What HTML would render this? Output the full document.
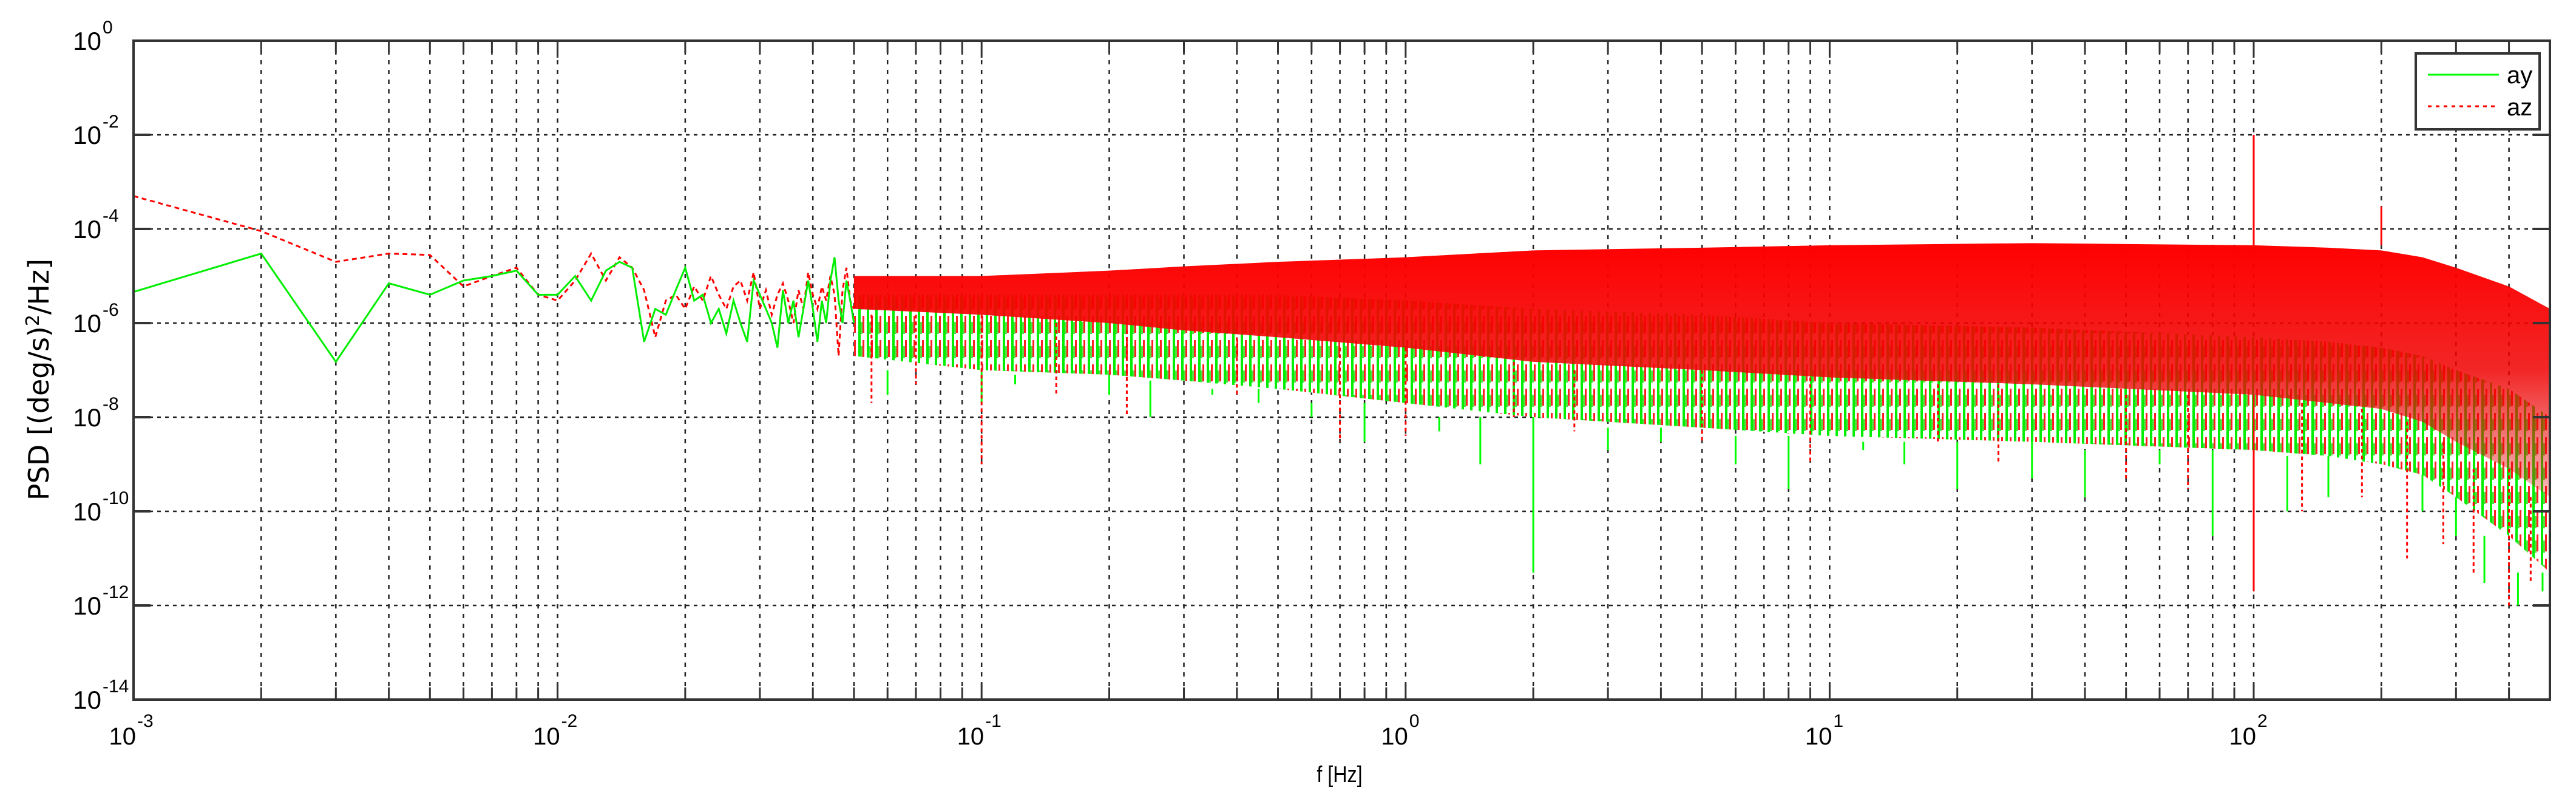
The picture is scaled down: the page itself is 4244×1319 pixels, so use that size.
<!DOCTYPE html>
<html><head><meta charset="utf-8"><style>
html,body{margin:0;padding:0;background:#fff;}
svg{display:block;font-family:"Liberation Sans",sans-serif;}
</style></head><body>
<svg id="chart" width="4244" height="1319" viewBox="0 0 4244 1319" xmlns="http://www.w3.org/2000/svg">
<defs>
<linearGradient id="redGrad" x1="0" y1="0" x2="0" y2="1">
<stop offset="0" stop-color="#ff0000" stop-opacity="1"/>
<stop offset="0.5" stop-color="#f00000" stop-opacity="0.85"/>
<stop offset="1" stop-color="#e00000" stop-opacity="0.25"/>
</linearGradient>
<pattern id="mixPat" patternUnits="userSpaceOnUse" width="14" height="40">
<rect x="0" y="0" width="14" height="40" fill="#fff"/>
<rect x="0" y="0" width="4" height="40" fill="#00ee00"/>
<rect x="7" y="0" width="3" height="28" fill="#ff2020"/>
<rect x="4" y="10" width="3" height="20" fill="#55dd44"/>
</pattern>
</defs>
<g id="grid"></g>
<g id="series"></g>
<rect x="220" y="67" width="3981" height="1085" fill="none" stroke="#333" stroke-width="4"/>
<g id="ticks"></g>
<text transform="translate(80,625) rotate(-90)" text-anchor="middle" font-size="46" font-family="'DejaVu Sans','Liberation Sans',sans-serif">PSD [(deg/s)<tspan dy="-16" font-size="30">2</tspan><tspan dy="16">/Hz]</tspan></text>
<text x="2207" y="1288" text-anchor="middle" font-size="38" transform="translate(2207,0) scale(0.85,1) translate(-2207,0)">f [Hz]</text>
<g>
<rect x="3980" y="88" width="204" height="125" fill="#fff" stroke="#333" stroke-width="4"/>
<line x1="4000" y1="123" x2="4117" y2="123" stroke="#00ff00" stroke-width="3"/>
<text x="4130" y="137" font-size="40">ay</text>
<line x1="4000" y1="175" x2="4117" y2="175" stroke="#ff0000" stroke-width="3" stroke-dasharray="6 7"/>
<text x="4130" y="190" font-size="40">az</text>
</g>
</svg>
<script>
// ---- data ----
const lowFreq = [0.001,0.002,0.003,0.004,0.005,0.006,0.007,0.008,0.009,0.010,0.011,0.012,0.013,0.014,0.015,0.016,0.017,0.018,0.019,0.020,0.021,0.022,0.023,0.024,0.025,0.026,0.027,0.028,0.029,0.030,0.031,0.032,0.033,0.034,0.035,0.036,0.037,0.038,0.039,0.040,0.041,0.042,0.043,0.044,0.045,0.046,0.047,0.048,0.049,0.050];
const ayLow = [4.6e-6,3e-5,1.5e-7,7e-6,4e-6,8e-6,1e-5,1.3e-5,4e-6,4e-6,1e-5,3e-6,1.3e-5,2e-5,1.5e-5,4e-7,2e-6,1.5e-6,5e-6,1.5e-5,3e-6,4e-6,1e-6,2e-6,6e-7,3e-6,1e-6,4e-7,8e-6,4e-6,2e-6,1e-6,3e-7,5e-6,1e-6,3e-6,5e-7,2e-6,8e-6,2e-6,4e-7,3e-6,1e-6,8e-6,2.5e-5,3e-6,1e-6,8e-6,3e-6,1e-6];
const azLow = [5e-4,9e-5,2e-5,3e-5,2.8e-5,6e-6,1e-5,1.5e-5,4e-6,3e-6,8e-6,3e-5,8e-6,2.5e-5,1.5e-5,5e-6,5e-7,3e-6,4e-6,2e-6,6e-6,3e-6,1e-5,4e-6,2e-6,6e-6,8e-6,3e-6,1.2e-5,2e-6,5e-6,1.5e-6,4e-6,7e-6,3e-6,1e-6,5e-6,2e-6,1.2e-5,4e-6,2e-6,6e-6,3e-6,1e-5,4e-6,2e-7,5e-6,1.5e-5,3e-6,2e-6];
const bandFreq = [0.05,0.1,0.2,0.3,0.5,1,2,5,10,30,100,150,200,250,300,400,500];
const azTop    = [1e-5,1e-5,1.3e-5,1.6e-5,2e-5,2.5e-5,3.5e-5,4e-5,4.5e-5,5e-5,4.5e-5,4e-5,3.5e-5,2.5e-5,1.5e-5,6e-6,2e-6];
const azBottom = [2e-6,1.5e-6,1e-6,7e-7,5e-7,3e-7,1.5e-7,1e-7,7e-8,5e-8,3e-8,2e-8,1.5e-8,8e-9,3e-9,8e-10,2e-10];
const ayTop    = [4e-6,4e-6,4e-6,4e-6,4e-6,3e-6,2e-6,1.5e-6,1e-6,8e-7,5e-7,4e-7,3e-7,2e-7,1e-7,4e-8,1e-8];
const ayBottom = [2e-7,1e-7,8e-8,6e-8,4e-8,2e-8,1e-8,6e-9,4e-9,3e-9,2e-9,1.5e-9,1e-9,6e-10,2e-10,3e-11,5e-12];
const aySpikeF = [0.06,0.1,0.12,0.2,0.25,0.35,0.45,0.6,0.8,1.2,1.5,2,3,4,6,8,12,15,20,30,40,60,80,120,150,250,300,350,420,480];
const aySpikeV = [3e-8,2e-8,5e-8,3e-8,1e-8,3e-8,2e-8,1e-8,3e-9,5e-9,1e-9,5e-12,2e-9,3e-9,1e-9,3e-10,2e-9,1e-9,3e-10,5e-10,2e-10,1e-9,3e-11,1e-10,2e-10,1e-10,3e-11,3e-12,1e-12,2e-12];
const azSpikeF = [0.055,0.07,0.1,0.15,0.22,0.4,0.7,1,1.8,2.5,5,9,18,25,50,70,100,130,180,230,280,330,400,450];
const azSpikeV = [2e-8,5e-8,1e-9,3e-8,1e-8,3e-8,3e-9,4e-9,1e-8,5e-9,3e-9,1e-9,3e-9,1e-9,5e-10,3e-10,2e-12,1e-10,2e-10,1e-11,2e-11,5e-12,1e-12,3e-12];
const azPeakF = [100,200];
const azPeakV = [1e-2,3e-4];
const xTickExp = [-3,-2,-1,0,1,2];
const yTickExp = [0,-2,-4,-6,-8,-10,-12,-14];

// ---- axes ----
const L=220,R=4201,T=67,B=1152,DEC=698.6;
const xs = f => L + (Math.log10(f)+3)*DEC;
const ys = v => T + (-Math.log10(v))*(B-T)/14;
const NS='http://www.w3.org/2000/svg';
function mk(tag,attrs,parent){const e=document.createElementNS(NS,tag);for(const k in attrs)e.setAttribute(k,attrs[k]);parent.appendChild(e);return e;}
const grid=document.getElementById('grid'),series=document.getElementById('series'),ticks=document.getElementById('ticks');

for(let d=-3;d<=2;d++){for(let m=1;m<=9;m++){const f=m*Math.pow(10,d);if(f>500)break;const x=xs(f);if(x<=L+1||x>=R-1)continue;
 const g=mk('line',{x1:x,y1:T,x2:x,y2:B,stroke:'#222','stroke-width':2.5,'stroke-dasharray':'7 9'},grid);
 
 
 const t1=mk('line',{x1:x,y1:B,x2:x,y2:B-(m===1?28:20),stroke:'#333','stroke-width':3},ticks);
 
 
 const t2=mk('line',{x1:x,y1:T,x2:x,y2:T+(m===1?28:20),stroke:'#333','stroke-width':3},ticks);
 
 
}}
yTickExp.forEach(e=>{const y=ys(Math.pow(10,e));
 if(y>T+1&&y<B-1){const g=mk('line',{x1:L,y1:y,x2:R,y2:y,stroke:'#222','stroke-width':2.5,'stroke-dasharray':'6 7'},grid);
 
 
 const t=mk('line',{x1:L,y1:y,x2:L+28,y2:y,stroke:'#333','stroke-width':4},ticks);
 
 
 const t2=mk('line',{x1:R,y1:y,x2:R-28,y2:y,stroke:'#333','stroke-width':4},ticks);
 
 }
 const lab=mk('text',{x:167,y:y+15,'text-anchor':'end','font-size':42},ticks);
 
 
 lab.textContent='10';
 const sup=mk('tspan',{x:169,y:y-12,'font-size':30,'text-anchor':'start'},lab);sup.textContent=String(e);
});
xTickExp.forEach(e=>{const x=xs(Math.pow(10,e));
 const lab=mk('text',{x:x+4,y:1226,'text-anchor':'end','font-size':40},ticks);
 
 
 lab.textContent='10';
 const sup=mk('tspan',{x:x+6,y:1197,'font-size':30,'text-anchor':'start'},lab);sup.textContent=String(e);
});

function band(top,bot,fill,name){
 let d='M'+bandFreq.map((f,i)=>xs(f)+','+ys(top[i])).join('L');
 for(let i=bandFreq.length-1;i>=0;i--)d+='L'+xs(bandFreq[i])+','+ys(bot[i]);
 const p=mk('path',{d:d+'Z',fill:fill},series);
 
 
}
band(ayTop,ayBottom,'url(#mixPat)','ay-dense-band');
band(azTop,azBottom,'url(#redGrad)','az-dense-band');

aySpikeF.forEach((f,i)=>{const j=bandFreq.findIndex(b=>b>=f);
 const l=mk('line',{x1:xs(f),y1:ys(ayBottom[Math.max(0,j)]),x2:xs(f),y2:ys(aySpikeV[i]),stroke:'#00ff00','stroke-width':3},series);
 
 });
azSpikeF.forEach((f,i)=>{const j=bandFreq.findIndex(b=>b>=f);
 const l=mk('line',{x1:xs(f),y1:ys(azBottom[Math.max(0,j)]),x2:xs(f),y2:ys(azSpikeV[i]),stroke:'#ff0000','stroke-width':3,'stroke-dasharray':'6 5'},series);
 
 });
azPeakF.forEach((f,i)=>{
 const l=mk('line',{x1:xs(f),y1:ys(azTop[10]),x2:xs(f),y2:ys(azPeakV[i]),stroke:'#ff0000','stroke-width':3},series);
 
 });
const l100=mk('line',{x1:xs(100),y1:ys(azBottom[10]),x2:xs(100),y2:ys(2e-12),stroke:'#ff0000','stroke-width':3},series);



const azLine=mk('polyline',{points:lowFreq.map((f,i)=>xs(f)+','+ys(azLow[i])).join(' '),fill:'none',stroke:'#ff0000','stroke-width':3,'stroke-dasharray':'8 6'},series);


const ayLine=mk('polyline',{points:lowFreq.map((f,i)=>xs(f)+','+ys(ayLow[i])).join(' '),fill:'none',stroke:'#00ee00','stroke-width':3},series);


</script>
</body></html>
